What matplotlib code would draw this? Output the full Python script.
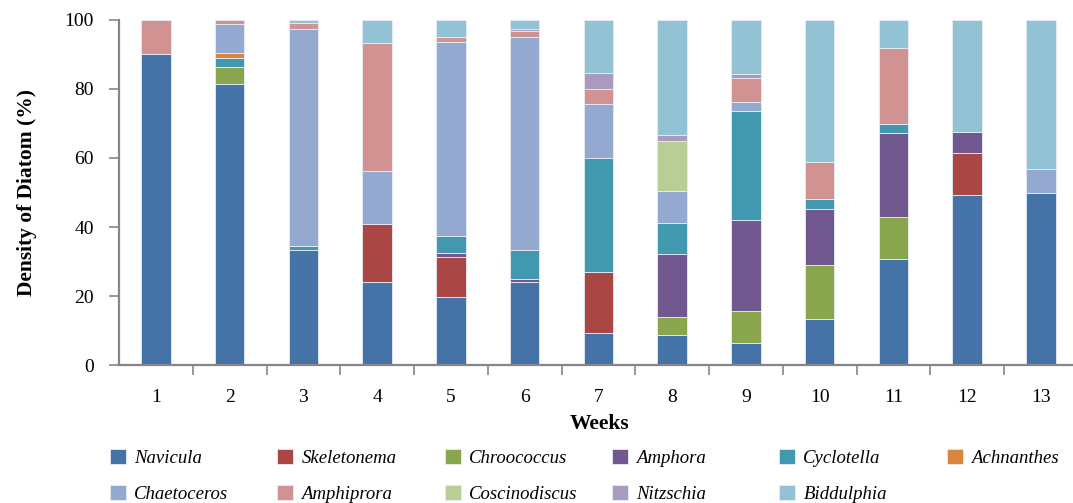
import matplotlib
matplotlib.use('Agg')
import matplotlib.pyplot as plt
import numpy as np

plt.rcParams['font.family'] = ['Liberation Serif', 'DejaVu Serif']

weeks = ['1', '2', '3', '4', '5', '6', '7', '8', '9', '10', '11', '12', '13']

species = ['Navicula', 'Skeletonema', 'Chroococcus', 'Amphora', 'Cyclotella', 'Achnanthes',
           'Chaetoceros', 'Amphiprora', 'Coscinodiscus', 'Nitzschia', 'Biddulphia']

colors = ['#4572A7', '#AA4643', '#89A54E', '#71588F', '#4198AF', '#DB843D',
          '#93A9CF', '#D19392', '#B9CD96', '#A99BBD', '#92C3D5']

# percent composition per week (stack order bottom -> top)
navicula      = [90.0, 81.5, 33.3, 24.2, 19.9, 24.0,  9.3,  8.8,  6.5, 13.5, 30.7, 49.2, 49.9]
skeletonema   = [ 0.0,  0.0,  0.0, 16.8, 11.3,  0.0, 17.6,  0.0,  0.0,  0.0,  0.0, 12.3,  0.0]
chroococcus   = [ 0.0,  4.9,  0.0,  0.0,  0.0,  0.0,  0.0,  5.2,  9.2, 15.4, 12.2,  0.0,  0.0]
amphora       = [ 0.0,  0.0,  0.0,  0.0,  1.4,  0.9,  0.0, 18.3, 26.4, 16.2, 24.4,  6.0,  0.0]
cyclotella    = [ 0.0,  2.4,  1.3,  0.0,  4.9,  8.4, 33.2,  9.0, 31.6,  3.1,  2.5,  0.0,  0.0]
achnanthes    = [ 0.0,  1.5,  0.0,  0.0,  0.0,  0.0,  0.0,  0.0,  0.0,  0.0,  0.0,  0.0,  0.0]
chaetoceros   = [ 0.0,  8.6, 62.6, 15.1, 56.1, 61.7, 15.6,  9.0,  2.5,  0.0,  0.0,  0.0,  7.0]
amphiprora    = [10.0,  1.1,  1.8, 37.1,  1.5,  1.6,  4.3,  0.0,  6.8, 10.7, 22.1,  0.0,  0.0]
coscinodiscus = [ 0.0,  0.0,  0.0,  0.0,  0.0,  0.0,  0.0, 14.5,  0.0,  0.0,  0.0,  0.0,  0.0]
nitzschia     = [ 0.0,  0.0,  0.0,  0.0,  0.0,  0.8,  4.5,  1.9,  1.4,  0.0,  0.0,  0.0,  0.0]
biddulphia    = [ 0.0,  0.0,  1.0,  6.8,  4.9,  2.6, 15.5, 33.3, 15.6, 41.1,  8.1, 32.5, 43.1]

series = [navicula, skeletonema, chroococcus, amphora, cyclotella, achnanthes,
          chaetoceros, amphiprora, coscinodiscus, nitzschia, biddulphia]

W, H = 1073, 503
fig = plt.figure(figsize=(W / 100, H / 100), dpi=100)
ax = fig.add_axes([119 / W, 1 - 365.3 / H, 958.75 / W, 345.6 / H])

x = np.arange(1, len(weeks) + 1)
bottom = np.zeros(len(weeks))
handles = []
for name, vals, col in zip(species, series, colors):
    vals = np.array(vals)
    b = ax.bar(x, vals, width=0.4, bottom=bottom, color=col, label=name,
               edgecolor='#e6edf5', linewidth=0.6)
    handles.append(b)
    bottom += vals

spine_col = '#868686'
ax.set_xlim(0.5, 13.5)
ax.set_ylim(0, 100)
for s in ['top', 'right']:
    ax.spines[s].set_visible(False)
for s in ['left', 'bottom']:
    ax.spines[s].set_color(spine_col)
    ax.spines[s].set_linewidth(1.6)

ax.set_yticks(np.arange(0, 101, 20))
ax.tick_params(axis='y', length=7, width=1.2, color=spine_col, labelsize=14, pad=11)
ax.set_xticks(x)
ax.set_xticklabels(weeks)
ax.tick_params(axis='x', which='major', length=0, labelsize=14, pad=17)
ax.set_xticks(np.arange(1.5, 13.0, 1.0), minor=True)
ax.tick_params(axis='x', which='minor', length=7, width=1.2, color=spine_col)

ax.set_ylabel('Density of Diatom (%)', fontsize=15.5, fontweight='bold', labelpad=20)
fig.text(600 / W, 1 - 424 / H, 'Weeks', fontsize=15.5, fontweight='bold',
         ha='center', va='center')

# legend: 6 fixed columns, 2 rows
col_x = [110, 277, 445, 612, 779, 947]
for i, cx in enumerate(col_x):
    idx = [i, i + 6] if i + 6 < len(species) else [i]
    fig.legend([handles[j] for j in idx], [species[j] for j in idx],
               loc='upper left', bbox_to_anchor=(cx / W, 1 - 449 / H),
               frameon=False, borderpad=0, borderaxespad=0,
               handlelength=0.85, handleheight=0.85, handletextpad=0.45,
               labelspacing=0.95, prop={'style': 'italic', 'size': 13.5})

fig.savefig('out.png', dpi=100)
